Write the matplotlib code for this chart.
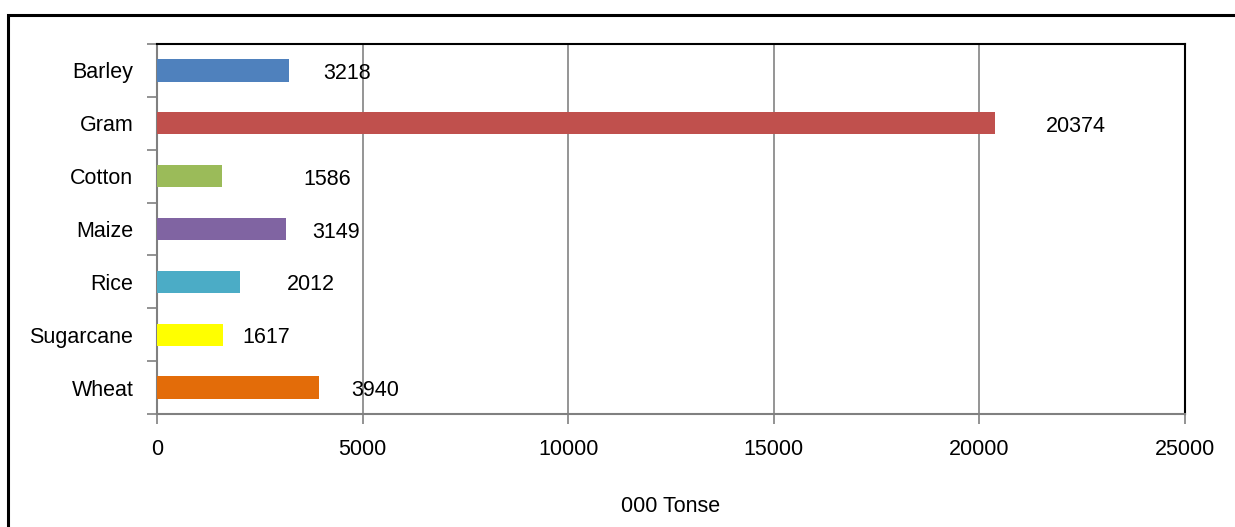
import matplotlib.pyplot as plt
from matplotlib.patches import Rectangle

plt.rcParams['font.family'] = ['Liberation Sans', 'DejaVu Sans']

crops = ["Barley", "Gram", "Cotton", "Maize", "Rice", "Sugarcane", "Wheat"]
production = [3218, 20374, 1586, 3149, 2012, 1617, 3940]
colors = ["#4f81bd", "#c0504d", "#9bbb59", "#8064a2", "#4bacc6", "#ffff00", "#e36c09"]
# label shift right of bar end, in pixels (labels were moved by hand in the original)
label_dx = [34, 51, 81, 26, 47, 19, 32]

fig = plt.figure(figsize=(12.35, 5.27), dpi=100)
fig.patches.append(Rectangle((8 / 1235, -0.1), 1.2, 1.1 - 15 / 527, transform=fig.transFigure,
                             fill=False, edgecolor="black", linewidth=2.2))

ax = fig.add_axes([157 / 1235, 1 - 414 / 527, (1185 - 157) / 1235, (414 - 44) / 527])
y = list(range(len(crops)))
ax.barh(y, production, height=0.42, color=colors, zorder=3)
for yi, v, dx in zip(y, production, label_dx):
    ax.annotate(str(v), (v, yi), xytext=(dx, -3), textcoords="offset pixels",
                va="center", ha="left", fontsize=15.5, zorder=4)

ax.set_xlim(0, 25000)
ax.set_ylim(len(crops) - 0.5, -0.5)
ax.set_xticks(range(0, 25001, 5000))
ax.set_yticks(y)
ax.set_yticklabels(crops)
ax.set_yticks([i - 0.5 for i in range(len(crops) + 1)], minor=True)
ax.tick_params(axis="y", which="major", length=0, pad=17, labelsize=15.5)
ax.tick_params(axis="y", which="minor", length=7, color="#808080", width=1.2)
ax.tick_params(axis="x", length=7, color="#808080", width=1.2, pad=11, labelsize=15.5)
ax.grid(axis="x", color="#8c8c8c", linewidth=1.3, zorder=0)

for s in ["left", "bottom"]:
    ax.spines[s].set_color("#808080")
    ax.spines[s].set_linewidth(1.5)
for s in ["top", "right"]:
    ax.spines[s].set_color("black")
    ax.spines[s].set_linewidth(1.5)

ax.set_xlabel("000 Tonse", fontsize=15.5, labelpad=26)

fig.savefig("out.png", dpi=100)
